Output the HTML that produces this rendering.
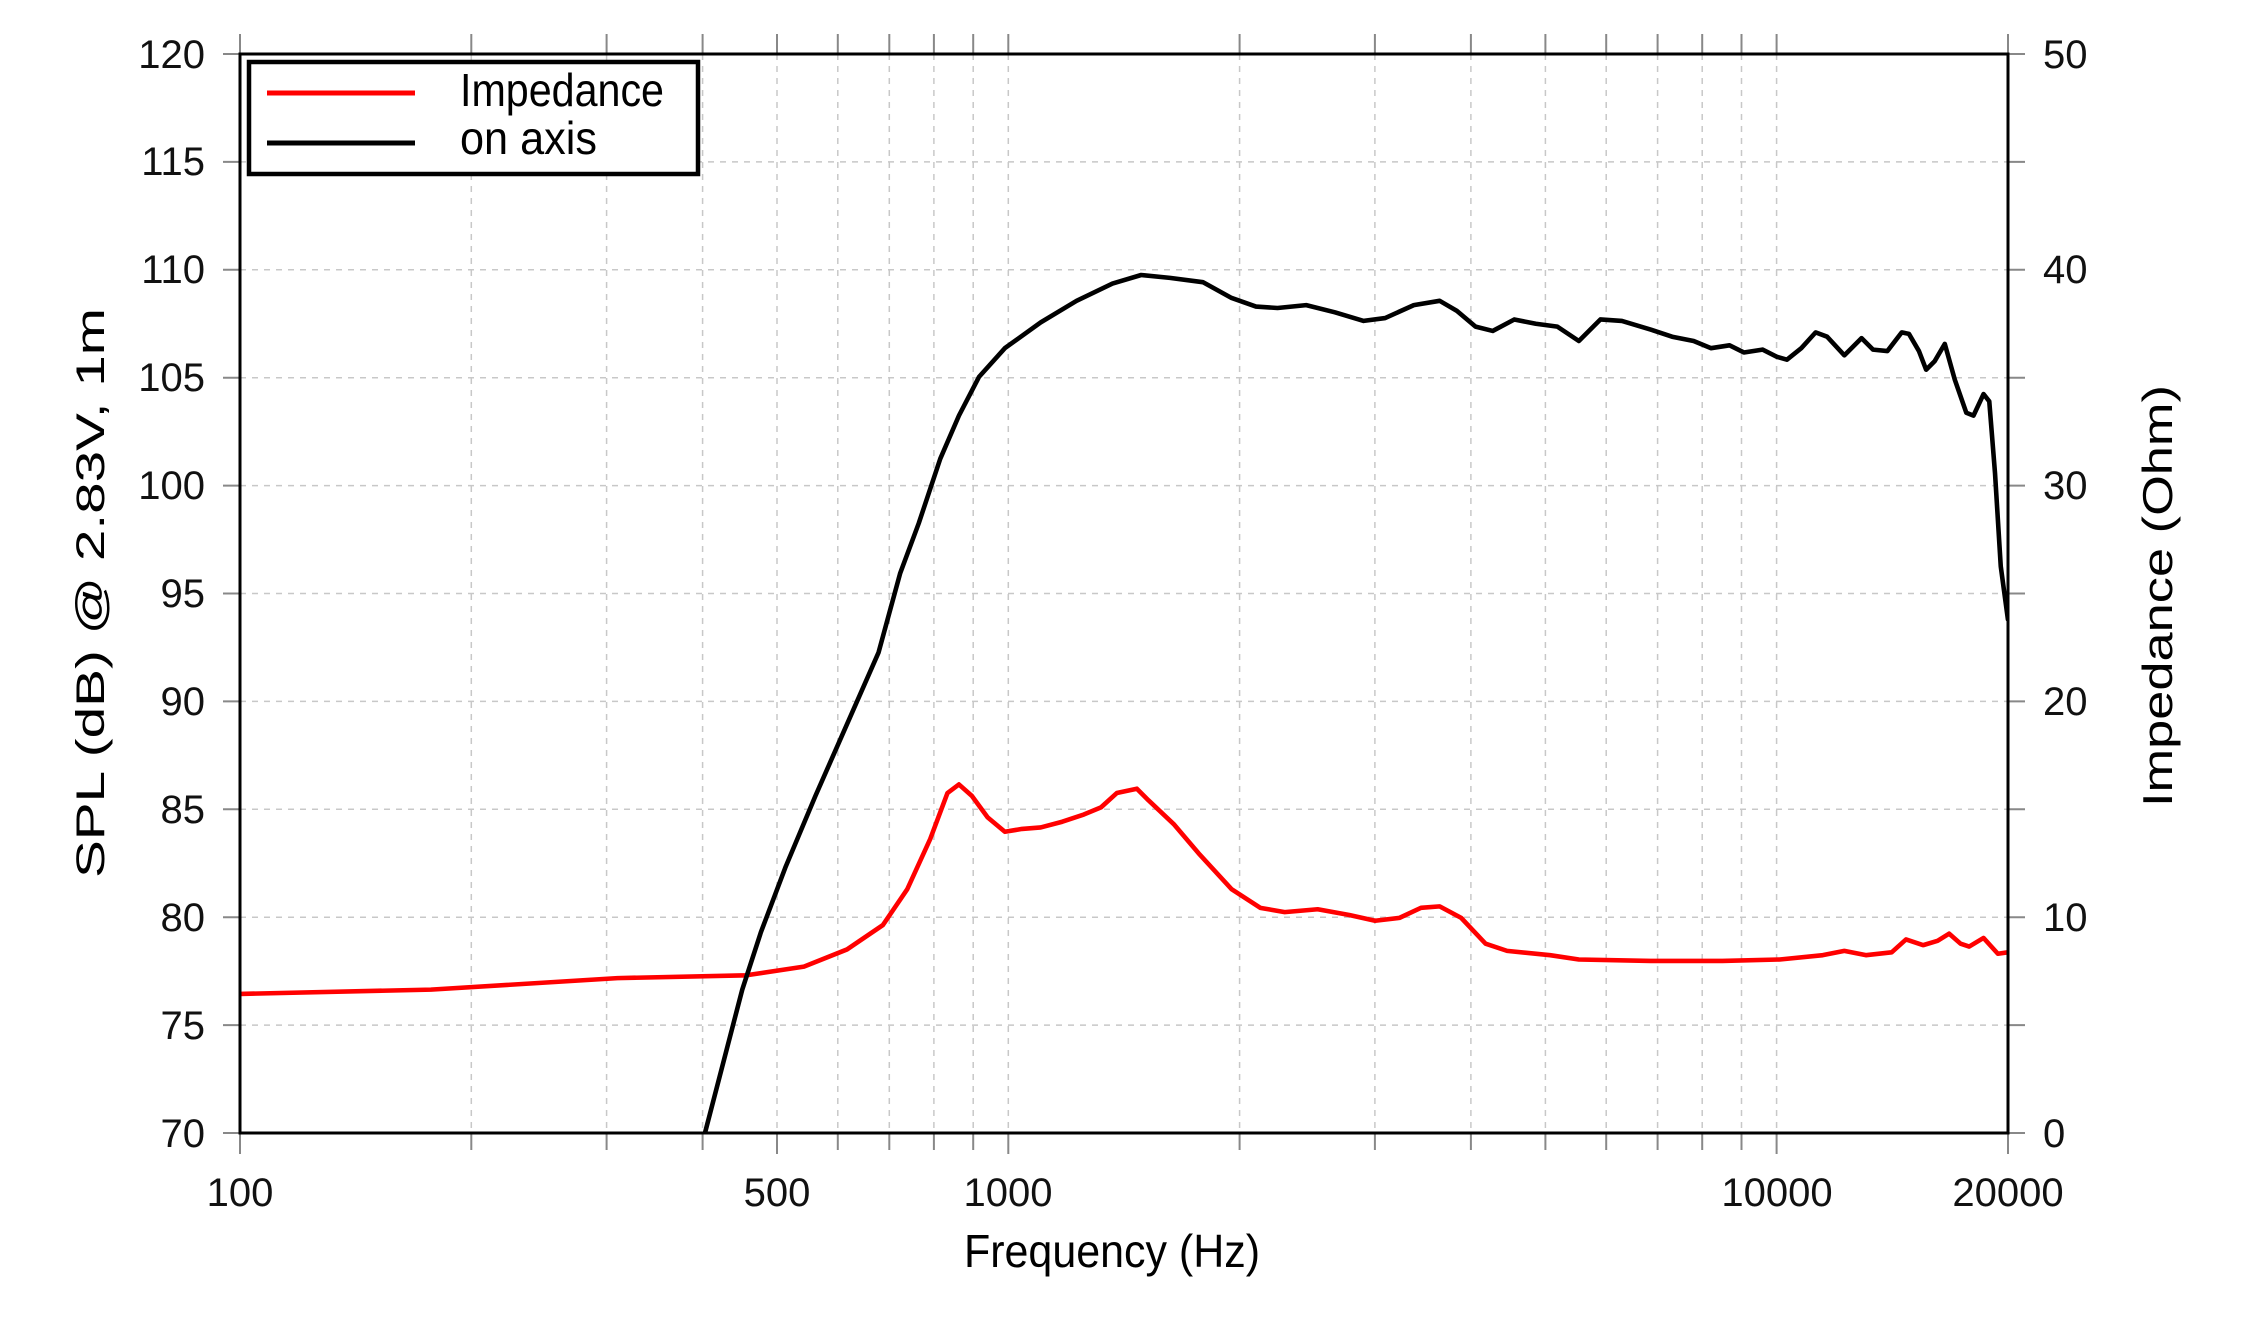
<!DOCTYPE html>
<html><head><meta charset="utf-8"><style>
html,body{margin:0;padding:0;background:#fff;}
svg{display:block;font-family:"Liberation Sans",sans-serif;}
</style></head><body>
<svg width="2250" height="1329" viewBox="0 0 2250 1329" xmlns="http://www.w3.org/2000/svg">
<rect width="2250" height="1329" fill="#fff"/>
<defs><clipPath id="c"><rect x="240" y="54" width="1768" height="1079"/></clipPath></defs>
<g stroke="#c8c8c8" stroke-width="1.5" stroke-dasharray="6,6" fill="none">
<path d="M471.3 54V1133M606.6 54V1133M702.6 54V1133M777 54V1133M837.8 54V1133M889.3 54V1133M933.9 54V1133M973.2 54V1133M1008.3 54V1133M1239.6 54V1133M1374.9 54V1133M1470.9 54V1133M1545.4 54V1133M1606.2 54V1133M1657.6 54V1133M1702.2 54V1133M1741.5 54V1133M1776.6 54V1133"/>
<path d="M240 1025.1H2008M240 917.2H2008M240 809.3H2008M240 701.4H2008M240 593.5H2008M240 485.6H2008M240 377.7H2008M240 269.8H2008M240 161.9H2008"/>
</g>
<g stroke="#888" stroke-width="2" fill="none">
<path d="M240 34V54M471.3 34V54M606.6 34V54M702.6 34V54M777 34V54M837.8 34V54M889.3 34V54M933.9 34V54M973.2 34V54M1008.3 34V54M1239.6 34V54M1374.9 34V54M1470.9 34V54M1545.4 34V54M1606.2 34V54M1657.6 34V54M1702.2 34V54M1741.5 34V54M1776.6 34V54M2008 34V54"/>
<path d="M240 1133V1154M471.3 1133V1150M606.6 1133V1150M702.6 1133V1150M777 1133V1154M837.8 1133V1150M889.3 1133V1150M933.9 1133V1150M973.2 1133V1150M1008.3 1133V1154M1239.6 1133V1150M1374.9 1133V1150M1470.9 1133V1150M1545.4 1133V1150M1606.2 1133V1150M1657.6 1133V1150M1702.2 1133V1150M1741.5 1133V1150M1776.6 1133V1154M2008 1133V1154"/>
<path d="M223 1133H240M223 1025.1H240M223 917.2H240M223 809.3H240M223 701.4H240M223 593.5H240M223 485.6H240M223 377.7H240M223 269.8H240M223 161.9H240M223 54H240"/>
<path d="M2008 1133H2025M2008 1025.1H2025M2008 917.2H2025M2008 809.3H2025M2008 701.4H2025M2008 593.5H2025M2008 485.6H2025M2008 377.7H2025M2008 269.8H2025M2008 161.9H2025M2008 54H2025"/>
</g>
<g clip-path="url(#c)" fill="none" stroke-linejoin="round" stroke-linecap="round">
<g transform="translate(240,54) scale(1.435) translate(-167,-38)" stroke-width="3.2">
<path stroke="#f00" d="M167,693 L300,690 L430,682 L520,680 L560,674 L590,662 L615,645 L632,620 L648,585 L660,553 L668,547 L677,555 L688,570 L700,580 L712,578 L725,577 L740,573 L755,568 L767,563 L778,553 L792,550 L800,558 L818,575 L835,595 L858,620 L878,633 L895,636 L918,634 L940,638 L958,642 L975,640 L990,633 L1003,632 L1018,640 L1035,658 L1050,663 L1080,666 L1100,669 L1150,670 L1200,670 L1240,669 L1270,666 L1285,663 L1300,666 L1318,664 L1328,655 L1340,659 L1350,656 L1358,651 L1366,658 L1372,660 L1382,654 L1392,665 L1399,664"/>
<path stroke="#000" d="M491,790 L517,690 L530,650 L547,605 L568,555 L590,505 L612,455 L627,400 L640,365 L655,320 L668,290 L682,263 L700,243 L725,225 L750,210 L775,198 L795,192 L815,194 L838,197 L858,208 L875,214 L890,215 L910,213 L930,218 L950,224 L965,222 L985,213 L1003,210 L1015,217 L1028,228 L1040,231 L1055,223 L1070,226 L1085,228 L1100,238 L1115,223 L1130,224 L1150,230 L1165,235 L1180,238 L1192,243 L1205,241 L1215,246 L1228,244 L1238,249 L1245,251 L1255,243 L1265,232 L1273,235 L1285,248 L1297,236 L1305,244 L1315,245 L1325,232 L1330,233 L1337,245 L1342,258 L1348,252 L1355,240 L1362,265 L1370,288 L1375,290 L1382,275 L1386,280 L1390,330 L1394,395 L1399,432"/>
</g></g>
<rect x="240" y="54" width="1768" height="1079" fill="none" stroke="#000" stroke-width="3"/>
<rect x="249" y="62" width="449" height="112" fill="#fff" stroke="#000" stroke-width="4.5"/>
<path d="M267 93H415" stroke="#f00" stroke-width="5"/>
<path d="M267 143H415" stroke="#000" stroke-width="5"/>
<g font-size="46" fill="#000">
<text x="460" y="106" textLength="204" lengthAdjust="spacingAndGlyphs">Impedance</text>
<text x="460" y="154" textLength="137" lengthAdjust="spacingAndGlyphs">on axis</text>
</g>
<g font-size="40" fill="#111" text-anchor="end">
<text x="205" y="1147">70</text><text x="205" y="1039">75</text><text x="205" y="931">80</text><text x="205" y="823">85</text><text x="205" y="715">90</text><text x="205" y="607">95</text><text x="205" y="499">100</text><text x="205" y="391">105</text><text x="205" y="283">110</text><text x="205" y="175">115</text><text x="205" y="68">120</text>
</g>
<g font-size="40" fill="#111">
<text x="2043" y="1147">0</text><text x="2043" y="931">10</text><text x="2043" y="715">20</text><text x="2043" y="499">30</text><text x="2043" y="283">40</text><text x="2043" y="68">50</text>
</g>
<g font-size="40" fill="#111" text-anchor="middle">
<text x="240" y="1206">100</text><text x="777" y="1206">500</text><text x="1008" y="1206">1000</text><text x="1777" y="1206">10000</text><text x="2008" y="1206">20000</text>
</g>
<text x="1112" y="1267" font-size="46" text-anchor="middle" textLength="296" lengthAdjust="spacingAndGlyphs">Frequency (Hz)</text>
<text transform="translate(104,593) rotate(-90)" font-size="40" text-anchor="middle" textLength="570" lengthAdjust="spacingAndGlyphs">SPL (dB) @ 2.83V, 1m</text>
<text transform="translate(2172,596) rotate(-90)" font-size="42" text-anchor="middle" textLength="422" lengthAdjust="spacingAndGlyphs">Impedance (Ohm)</text>
</svg>
</body></html>
